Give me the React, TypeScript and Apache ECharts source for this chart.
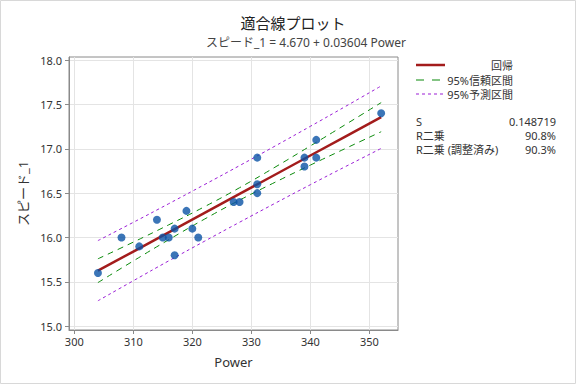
import React, { useEffect, useRef } from "react";
import * as echarts from "echarts";

// observed data
const power = [304, 308, 311, 314, 315, 316, 317, 317, 319, 320, 321, 327, 328, 331, 331, 331, 339, 339, 341, 341, 352];
const speed = [15.6, 16.0, 15.9, 16.2, 16.0, 16.0, 16.1, 15.8, 16.3, 16.1, 16.0, 16.4, 16.4, 16.9, 16.6, 16.5, 16.9, 16.8, 17.1, 16.9, 17.4];

// fitted line and intervals read at these Power values
const bandX = [304, 310, 316, 322, 328, 334, 340, 346, 352];
const fitY = [15.626, 15.842, 16.059, 16.275, 16.491, 16.707, 16.924, 17.140, 17.356];
const ciLow = [15.492, 15.736, 15.975, 16.205, 16.421, 16.622, 16.816, 17.005, 17.192];
const ciHigh = [15.760, 15.948, 16.143, 16.345, 16.561, 16.792, 17.032, 17.275, 17.520];
const piLow = [15.287, 15.513, 15.737, 15.956, 16.172, 16.385, 16.595, 16.801, 17.004];
const piHigh = [15.965, 16.171, 16.381, 16.594, 16.810, 17.030, 17.253, 17.479, 17.708];

const xTicks = [300, 310, 320, 330, 340, 350];
const yTicks = [15.0, 15.5, 16.0, 16.5, 17.0, 17.5, 18.0];

const legendItems = ["回帰", "95%信頼区間", "95%予測区間"];
const statLabels = ["S", "R二乗", "R二乗 (調整済み)"];
const statValues = ["0.148719", "90.8%", "90.3%"];

const FONT = "'Noto Sans', 'Noto Sans CJK JP', sans-serif";
const RED = "#a31c1c";
const GREEN = "#0a8a0a";
const PURPLE = "#9b1fd6";
const BLUE = "#0a53a5";

const pair = (xs: number[], ys: number[]) => xs.map((x, i) => [x, ys[i]]);

export default function App() {
  const ref = useRef<HTMLDivElement>(null);
  useEffect(() => {
    if (!ref.current) return;
    const chart = echarts.init(ref.current, undefined, { renderer: "svg" });
    const lineStyles = [
      { color: RED, width: 2.5, type: "solid" as any },
      { color: GREEN, width: 1, type: [6, 5] as any },
      { color: PURPLE, width: 1, type: [3, 3] as any },
    ];
    const legendGraphics: any[] = [];
    const legendY = [65, 80, 94];
    legendItems.forEach((name, i) => {
      legendGraphics.push({
        type: "line",
        shape: { x1: 416, y1: legendY[i], x2: 445, y2: legendY[i] },
        style: { stroke: lineStyles[i].color, lineWidth: i === 0 ? 2.5 : 1.2, lineDash: i === 0 ? null : (i === 1 ? [8, 8] : [3, 3]) },
      });
      legendGraphics.push({
        type: "text",
        x: 513,
        y: legendY[i],
        style: { text: name, align: "right", verticalAlign: "middle", fontSize: 11, fontFamily: FONT, fill: "#333" },
      });
    });
    const statY = [121, 135, 149];
    statLabels.forEach((lab, i) => {
      legendGraphics.push({
        type: "text",
        x: 416,
        y: statY[i],
        style: { text: lab, align: "left", verticalAlign: "middle", fontSize: 11, fontFamily: FONT, fill: "#333" },
      });
      legendGraphics.push({
        type: "text",
        x: 556,
        y: statY[i],
        style: { text: statValues[i], align: "right", verticalAlign: "middle", fontSize: 11, fontFamily: FONT, fill: "#333" },
      });
    });
    legendGraphics.push({
      type: "rect",
      shape: { x: 0.5, y: 0.5, width: 575, height: 383 },
      style: { fill: "none", stroke: "#d8d8d8", lineWidth: 1 },
      silent: true,
    });

    chart.setOption({
      animation: false,
      backgroundColor: "#fff",
      title: [
        {
          text: "適合線プロット",
          left: 288,
          top: 10,
          textAlign: "center",
          textStyle: { fontSize: 15, fontWeight: "normal", fontFamily: FONT, color: "#222" },
        },
        {
          text: "スピード_1 = 4.670 + 0.03604 Power",
          left: 301,
          top: 31,
          textAlign: "center",
          textStyle: { fontSize: 12, fontWeight: "normal", fontFamily: FONT, color: "#444" },
        },
      ],
      grid: {
        left: 69,
        top: 57,
        width: 329,
        height: 273,
        show: true,
        borderColor: "#8a8a8a",
        borderWidth: 1,
        backgroundColor: "#fff",
      },
      xAxis: {
        type: "value",
        min: 299.1,
        max: 354.85,
        name: "Power",
        nameLocation: "middle",
        nameGap: 25,
        nameTextStyle: { fontSize: 13, fontFamily: FONT, color: "#333" },
        axisLine: { show: true, lineStyle: { color: "#8a8a8a" } },
        axisTick: { show: true, customValues: xTicks, length: 4, lineStyle: { color: "#8a8a8a" } },
        axisLabel: { customValues: xTicks, fontSize: 11, fontFamily: FONT, color: "#333", margin: 6 },
        splitLine: { show: true, lineStyle: { color: "#e4e4e4" } },
      },
      yAxis: {
        type: "value",
        min: 14.958,
        max: 18.034,
        name: "スピード_1",
        nameLocation: "middle",
        nameGap: 32,
        nameTextStyle: { fontSize: 13, fontFamily: FONT, color: "#333" },
        axisLine: { show: true, lineStyle: { color: "#8a8a8a" } },
        axisTick: { show: true, customValues: yTicks, length: 4, lineStyle: { color: "#8a8a8a" } },
        axisLabel: {
          customValues: yTicks,
          fontSize: 11,
          fontFamily: FONT,
          color: "#333",
          margin: 7,
          formatter: (v: number) => v.toFixed(1),
        },
        splitLine: { show: true, lineStyle: { color: "#e4e4e4" } },
      },
      series: [
        {
          name: "95%予測区間 上",
          type: "line",
          data: pair(bandX, piHigh),
          smooth: true,
          showSymbol: false,
          lineStyle: lineStyles[2],
        },
        {
          name: "95%予測区間 下",
          type: "line",
          data: pair(bandX, piLow),
          smooth: true,
          showSymbol: false,
          lineStyle: lineStyles[2],
        },
        {
          name: "95%信頼区間 上",
          type: "line",
          data: pair(bandX, ciHigh),
          smooth: true,
          showSymbol: false,
          lineStyle: lineStyles[1],
        },
        {
          name: "95%信頼区間 下",
          type: "line",
          data: pair(bandX, ciLow),
          smooth: true,
          showSymbol: false,
          lineStyle: lineStyles[1],
        },
        {
          name: "回帰",
          type: "line",
          data: pair(bandX, fitY),
          showSymbol: false,
          lineStyle: lineStyles[0],
        },
        {
          name: "データ",
          type: "scatter",
          data: pair(power, speed),
          symbol: "circle",
          symbolSize: 8,
          itemStyle: { color: BLUE },
          z: 5,
        },
      ],
      graphic: legendGraphics,
    });
    return () => chart.dispose();
  }, []);
  return <div ref={ref} style={{ position: "fixed", left: 0, top: 0, width: 576, height: 384 }} />;
}
